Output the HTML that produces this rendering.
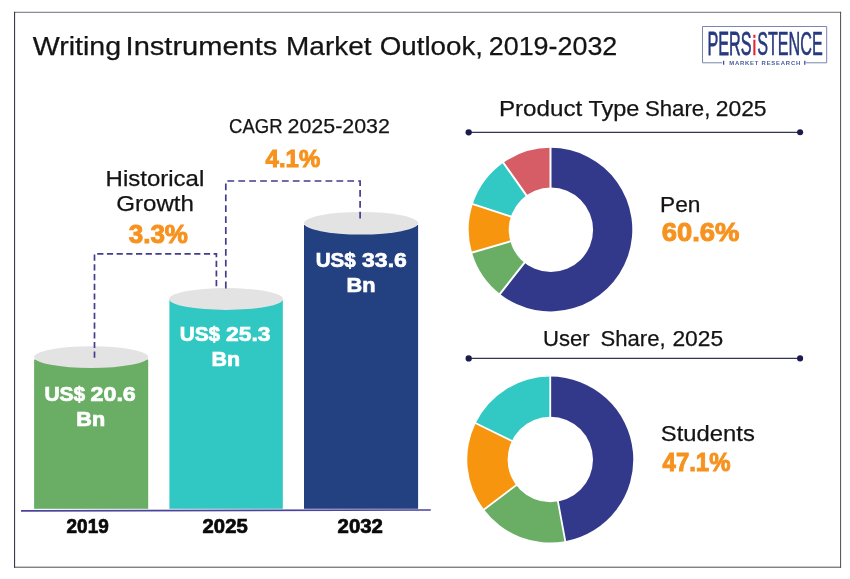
<!DOCTYPE html>
<html lang="en">
<head>
<meta charset="utf-8">
<title>Writing Instruments Market Outlook, 2019-2032</title>
<style>
html,body{margin:0;padding:0;background:#fff;}
body{width:850px;height:579px;overflow:hidden;font-family:"Liberation Sans",sans-serif;}
svg{display:block;}
text{font-family:"Liberation Sans",sans-serif;}
.b{font-weight:700;fill:#0a0a0a;stroke:#0a0a0a;stroke-width:0.7;}
.o{fill:#f6921e;font-weight:700;stroke:#f6921e;stroke-width:1.0;}
.w{fill:#fff;font-weight:700;stroke:#fff;stroke-width:0.7;}
.k{fill:#141414;stroke:#141414;stroke-width:0.25;}
.dash{fill:none;stroke:#423d8c;stroke-width:1.7;}
</style>
</head>
<body>
<svg width="850" height="579" viewBox="0 0 850 579">
<rect x="0" y="0" width="850" height="579" fill="#fff"/>
<!-- frame -->
<path d="M14.1 12.3H841.1" stroke="#6e6e78" stroke-width="1" fill="none"/>
<path d="M840.6 11.8V567.7" stroke="#4c4c58" stroke-width="1" fill="none"/>
<path d="M14.1 567.2H841.1" stroke="#4a4a52" stroke-width="1" fill="none"/>
<path d="M14.6 11.8V567.7" stroke="#26263a" stroke-width="1" fill="none"/>

<!-- title -->
<text class="k" y="55.4" font-size="25.4"><tspan x="32.7" textLength="88.4" lengthAdjust="spacingAndGlyphs">Writing</tspan> <tspan x="125.6" textLength="151.8" lengthAdjust="spacingAndGlyphs">Instruments</tspan> <tspan x="286.1" textLength="85.4" lengthAdjust="spacingAndGlyphs">Market</tspan> <tspan x="379.7" textLength="103.3" lengthAdjust="spacingAndGlyphs">Outlook,</tspan> <tspan x="488.8" textLength="128.5" lengthAdjust="spacingAndGlyphs">2019-2032</tspan></text>

<!-- logo -->
<g>
<path d="M722 62.8H702.5V26.5H826.7V62.8H806" fill="none" stroke="#7a86ad" stroke-width="1"/>
<path d="M723.6 60.8V64.8M804.8 60.8V64.8" stroke="#3d4f8c" stroke-width="1.3" fill="none"/>
<g transform="translate(707.4 55.2) scale(0.4903 1)">
<text x="0" y="0" font-size="33" fill="#27397e" stroke="#27397e" stroke-width="0.6" vector-effect="non-scaling-stroke" style="vector-effect:non-scaling-stroke">PERS<tspan dx="2.4" fill="#e0262d" stroke="#e0262d" stroke-width="0.3" font-weight="700" font-size="27.5">i</tspan><tspan dx="1.6">STENCE</tspan></text>
</g>
<text x="729.2" y="64.8" font-size="5.9" font-weight="700" fill="#4a5c96" textLength="71" lengthAdjust="spacing">MARKET RESEARCH</text>
</g>

<!-- bars -->
<rect x="34.1" y="359.5" width="114.1" height="149.3" fill="#6aae66"/>
<ellipse cx="91.15" cy="357.1" rx="57.05" ry="10.9" fill="#e3e3e3"/>
<rect x="169.4" y="300" width="113.4" height="208.8" fill="#31c8c4"/>
<ellipse cx="226.1" cy="299" rx="56.8" ry="10.9" fill="#e3e3e3"/>
<rect x="304" y="225" width="114.1" height="283.8" fill="#234180"/>
<ellipse cx="361.05" cy="223.3" rx="57.05" ry="11.3" fill="#e3e3e3"/>

<!-- axis -->
<path d="M21 510.9L430.8 510" stroke="#4c449c" stroke-width="1.7" fill="none"/>

<!-- dashed brackets -->
<path class="dash" stroke-dasharray="6.2 3.5" d="M94.5 357.8V253.8H216.4V288.4"/>
<path class="dash" stroke-dasharray="6.8 4.1" d="M225.8 288.4V181H360.1V218.5"/>

<!-- bar labels -->
<text class="w" font-size="20.8"><tspan y="400.6" x="44.4" textLength="40.8" lengthAdjust="spacingAndGlyphs">US$</tspan> <tspan x="90.5" textLength="45.3" lengthAdjust="spacingAndGlyphs">20.6</tspan> <tspan y="426.1" x="76.3" textLength="28.9" lengthAdjust="spacingAndGlyphs">Bn</tspan></text>
<text class="w" font-size="20.8"><tspan y="340.6" x="179.8" textLength="40.3" lengthAdjust="spacingAndGlyphs">US$</tspan> <tspan x="226.0" textLength="44.5" lengthAdjust="spacingAndGlyphs">25.3</tspan> <tspan y="366.1" x="211.6" textLength="28.6" lengthAdjust="spacingAndGlyphs">Bn</tspan></text>
<text class="w" font-size="20.8"><tspan y="266.6" x="315.7" textLength="40.0" lengthAdjust="spacingAndGlyphs">US$</tspan> <tspan x="362.1" textLength="44.7" lengthAdjust="spacingAndGlyphs">33.6</tspan> <tspan y="292.1" x="346.6" textLength="29.0" lengthAdjust="spacingAndGlyphs">Bn</tspan></text>

<!-- years -->
<text class="b" y="532.7" font-size="19.6" x="66.6" textLength="42.1" lengthAdjust="spacingAndGlyphs">2019</text>
<text class="b" y="532.7" font-size="19.6" x="202.6" textLength="45.1" lengthAdjust="spacingAndGlyphs">2025</text>
<text class="b" y="532.7" font-size="19.6" x="337.6" textLength="45.3" lengthAdjust="spacingAndGlyphs">2032</text>

<!-- growth labels -->
<text class="k" font-size="21.6"><tspan y="186.3" x="105.6" textLength="98.7" lengthAdjust="spacingAndGlyphs">Historical</tspan> <tspan y="211" x="116.3" textLength="77.6" lengthAdjust="spacingAndGlyphs">Growth</tspan></text>
<text class="o" y="242.5" font-size="25.2" x="128.7" textLength="59.3" lengthAdjust="spacingAndGlyphs">3.3%</text>
<text class="k" y="133" font-size="20.2"><tspan x="229.1" textLength="53.4" lengthAdjust="spacingAndGlyphs">CAGR</tspan> <tspan x="287.5" textLength="102.4" lengthAdjust="spacingAndGlyphs">2025-2032</tspan></text>
<text class="o" y="166.6" font-size="24.8" x="265.6" textLength="54.6" lengthAdjust="spacingAndGlyphs">4.1%</text>

<!-- section 1 -->
<text class="k" y="115.6" font-size="22.4"><tspan x="498.9" textLength="83.4" lengthAdjust="spacingAndGlyphs">Product</tspan> <tspan x="588.4" textLength="51.0" lengthAdjust="spacingAndGlyphs">Type</tspan> <tspan x="644.9" textLength="65.5" lengthAdjust="spacingAndGlyphs">Share,</tspan> <tspan x="715.7" textLength="50.9" lengthAdjust="spacingAndGlyphs">2025</tspan></text>
<path d="M468.7 132.3H800.1" stroke="#34344f" stroke-width="1.3"/>
<circle cx="468.7" cy="132.3" r="3.15" fill="#1b1b4d"/><circle cx="800.1" cy="132.3" r="3.05" fill="#1b1b4d"/>
<path d="M550.5 229.6L550.50 147.80A81.8 81.8 0 1 1 499.96 293.92Z" fill="#33398a"/>
<path d="M550.5 229.6L499.96 293.92A81.8 81.8 0 0 1 471.99 252.56Z" fill="#6aae66"/>
<path d="M550.5 229.6L471.99 252.56A81.8 81.8 0 0 1 472.79 204.05Z" fill="#f7950f"/>
<path d="M550.5 229.6L472.79 204.05A81.8 81.8 0 0 1 503.35 162.76Z" fill="#32c8c4"/>
<path d="M550.5 229.6L503.35 162.76A81.8 81.8 0 0 1 550.50 147.80Z" fill="#d65d65"/>
<path d="M550.5 229.6L550.50 146.30M550.5 229.6L499.03 295.10M550.5 229.6L470.55 252.98M550.5 229.6L471.37 203.58M550.5 229.6L502.48 161.53" stroke="#fff" stroke-width="2.0" fill="none"/>
<circle cx="550.9" cy="229.8" r="42.2" fill="#fff"/>
<text class="k" y="212.1" font-size="22" x="660.0" textLength="40.4" lengthAdjust="spacingAndGlyphs">Pen</text>
<text class="o" y="240.8" font-size="26.2" x="661.7" textLength="77.7" lengthAdjust="spacingAndGlyphs">60.6%</text>

<!-- section 2 -->
<text class="k" y="345.9" font-size="21.6"><tspan x="543.1" textLength="46.6" lengthAdjust="spacingAndGlyphs">User</tspan>  <tspan x="600.6" textLength="65.0" lengthAdjust="spacingAndGlyphs">Share,</tspan> <tspan x="672.4" textLength="50.8" lengthAdjust="spacingAndGlyphs">2025</tspan></text>
<path d="M468.7 358.4H800.1" stroke="#34344f" stroke-width="1.3"/>
<circle cx="468.7" cy="358.4" r="3.15" fill="#1b1b4d"/><circle cx="800.1" cy="358.4" r="3.05" fill="#1b1b4d"/>
<path d="M550.25 459.6L550.25 376.60A83.0 83.0 0 0 1 565.29 541.23Z" fill="#33398a"/>
<path d="M550.25 459.6L565.29 541.23A83.0 83.0 0 0 1 483.96 509.55Z" fill="#6aae66"/>
<path d="M550.25 459.6L483.96 509.55A83.0 83.0 0 0 1 475.65 423.22Z" fill="#f7950f"/>
<path d="M550.25 459.6L475.65 423.22A83.0 83.0 0 0 1 550.25 376.60Z" fill="#32c8c4"/>
<path d="M550.25 459.6L550.25 375.10M550.25 459.6L565.56 542.70M550.25 459.6L482.77 510.45M550.25 459.6L474.30 422.56" stroke="#fff" stroke-width="1.8" fill="none"/>
<circle cx="550.3" cy="459.55" r="42.7" fill="#fff"/>
<text class="k" y="441.3" font-size="22" x="660.8" textLength="94.0" lengthAdjust="spacingAndGlyphs">Students</text>
<text class="o" y="470.7" font-size="26" x="662.6" textLength="67.8" lengthAdjust="spacingAndGlyphs">47.1%</text>
</svg>
</body>
</html>
